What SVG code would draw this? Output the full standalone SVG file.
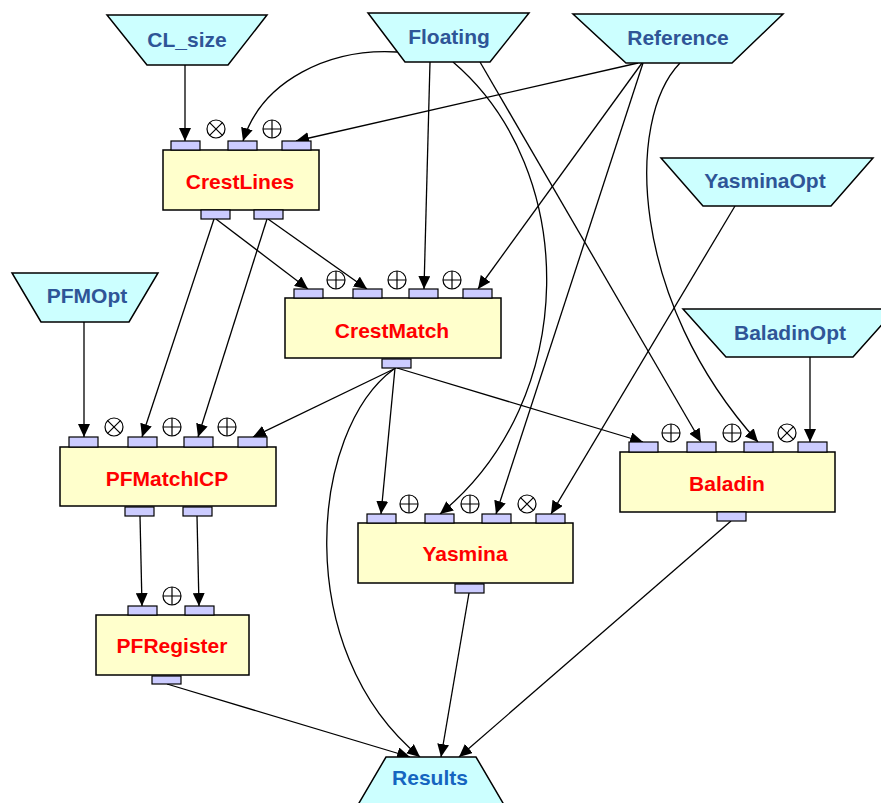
<svg xmlns="http://www.w3.org/2000/svg" width="881" height="803" viewBox="0 0 881 803">
<defs>
<marker id="ah" markerUnits="userSpaceOnUse" markerWidth="13" markerHeight="12" refX="13" refY="6" orient="auto">
<path d="M0,0 L13,6 L0,12 z" fill="#000"/>
</marker>
<g id="oplus"><circle cx="0" cy="0" r="9" fill="#fff" stroke="#000" stroke-width="1.2"/><path d="M-9,0 H9 M0,-9 V9" stroke="#000" stroke-width="1.2"/></g>
<g id="otimes"><circle cx="0" cy="0" r="9" fill="#fff" stroke="#000" stroke-width="1.2"/><path d="M-6.4,-6.4 L6.4,6.4 M6.4,-6.4 L-6.4,6.4" stroke="#000" stroke-width="1.2"/></g>
</defs>
<style>
.io{fill:#CCFFFF;stroke:#000;stroke-width:1.5}
.box{fill:#FFFFCC;stroke:#000;stroke-width:1.5}
.port{fill:#CCCCFF;stroke:#000;stroke-width:1.2}
.it{font-family:"Liberation Sans",Arial,sans-serif;font-weight:bold;font-size:21px;fill:#2F5597;text-anchor:middle}
.res{fill:#1565C0}
.mt{font-family:"Liberation Sans",Arial,sans-serif;font-weight:bold;font-size:21px;fill:#FF0000;text-anchor:middle}
.c{fill:none;stroke:#000;stroke-width:1.3;marker-end:url(#ah)}
</style>
<rect width="881" height="803" fill="#fff"/>

<g id="connectors">
<path class="c" d="M185,65 L185,141"/>
<path class="c" d="M397,52 C330,48 262,80 243,141"/>
<path class="c" d="M638,63 L296,141"/>
<path class="c" d="M216,219 L308,289"/>
<path class="c" d="M268,219 L367,289"/>
<path class="c" d="M214,219 L142,437"/>
<path class="c" d="M267,219 L198,437"/>
<path class="c" d="M430,62 L424,289"/>
<path class="c" d="M642,63 L478,289"/>
<path class="c" d="M84,322 L84,437"/>
<path class="c" d="M396,368 L253,437"/>
<path class="c" d="M395,368 L381,514"/>
<path class="c" d="M397,368 L643,442"/>
<path class="c" d="M394,369 C310,430 290,650 420,757"/>
<path class="c" d="M453,62 C580,170 580,400 440,514"/>
<path class="c" d="M480,62 L701,442"/>
<path class="c" d="M643,63 L496,514"/>
<path class="c" d="M680,63 C625,120 630,300 758,442"/>
<path class="c" d="M735,206 L551,514"/>
<path class="c" d="M810,357 L810,442"/>
<path class="c" d="M140,516 L142,606"/>
<path class="c" d="M197,516 L199,606"/>
<path class="c" d="M167,684 L410,757"/>
<path class="c" d="M469,593 L441,757"/>
<path class="c" d="M731,521 L459,757"/>
</g>

<g id="CL_size"><polygon class="io" points="107,15 267,15 228,65 147,65"/><text class="it" x="187" y="47">CL_size</text></g>
<g id="Floating"><polygon class="io" points="368,13 529,13 490,62 405,62"/><text class="it" x="449" y="44">Floating</text></g>
<g id="Reference"><polygon class="io" points="573,14 783,14 732,63 626,63"/><text class="it" x="678" y="45">Reference</text></g>
<g id="YasminaOpt"><polygon class="io" points="661,158 873,158 831,206 703,206"/><text class="it" x="765" y="188">YasminaOpt</text></g>
<g id="PFMOpt"><polygon class="io" points="12,273 158,273 129,322 41,322"/><text class="it" x="87" y="303">PFMOpt</text></g>
<g id="BaladinOpt"><polygon class="io" points="683,309 896,309 853,357 726,357"/><text class="it" x="790" y="340">BaladinOpt</text></g>
<g id="Results"><polygon class="io" points="386,757 476,757 510,815 352,815"/><text class="it res" x="430" y="785">Results</text></g>

<g id="CrestLines">
<rect class="box" x="163" y="150" width="156" height="60"/>
<rect class="port" x="171" y="141" width="29" height="9"/>
<rect class="port" x="228" y="141" width="29" height="9"/>
<rect class="port" x="282" y="141" width="29" height="9"/>
<rect class="port" x="201" y="210" width="29" height="9"/>
<rect class="port" x="254" y="210" width="29" height="9"/>
<use href="#otimes" x="216" y="129"/>
<use href="#oplus" x="272" y="129"/>
<text class="mt" x="240" y="189">CrestLines</text>
</g>

<g id="CrestMatch">
<rect class="box" x="285" y="298" width="216" height="60"/>
<rect class="port" x="294" y="289" width="29" height="9"/>
<rect class="port" x="353" y="289" width="29" height="9"/>
<rect class="port" x="409" y="289" width="29" height="9"/>
<rect class="port" x="463" y="289" width="29" height="9"/>
<rect class="port" x="382" y="359" width="29" height="9"/>
<use href="#oplus" x="336" y="280"/>
<use href="#oplus" x="397" y="280"/>
<use href="#oplus" x="452" y="280"/>
<text class="mt" x="392" y="338">CrestMatch</text>
</g>

<g id="PFMatchICP">
<rect class="box" x="60" y="447" width="216" height="59"/>
<rect class="port" x="69" y="437" width="29" height="10"/>
<rect class="port" x="128" y="437" width="29" height="10"/>
<rect class="port" x="184" y="437" width="29" height="10"/>
<rect class="port" x="238" y="437" width="29" height="10"/>
<rect class="port" x="125" y="507" width="29" height="9"/>
<rect class="port" x="183" y="507" width="29" height="9"/>
<use href="#otimes" x="114" y="427"/>
<use href="#oplus" x="172" y="427"/>
<use href="#oplus" x="227" y="427"/>
<text class="mt" x="167" y="486">PFMatchICP</text>
</g>

<g id="Yasmina">
<rect class="box" x="358" y="523" width="215" height="60"/>
<rect class="port" x="367" y="514" width="29" height="9"/>
<rect class="port" x="425" y="514" width="29" height="9"/>
<rect class="port" x="482" y="514" width="29" height="9"/>
<rect class="port" x="536" y="514" width="29" height="9"/>
<rect class="port" x="455" y="584" width="29" height="9"/>
<use href="#oplus" x="409" y="504"/>
<use href="#oplus" x="470" y="504"/>
<use href="#otimes" x="527" y="504"/>
<text class="mt" x="465" y="561">Yasmina</text>
</g>

<g id="Baladin">
<rect class="box" x="620" y="452" width="215" height="60"/>
<rect class="port" x="629" y="442" width="29" height="10"/>
<rect class="port" x="687" y="442" width="29" height="10"/>
<rect class="port" x="744" y="442" width="29" height="10"/>
<rect class="port" x="798" y="442" width="29" height="10"/>
<rect class="port" x="717" y="512" width="29" height="9"/>
<use href="#oplus" x="671" y="433"/>
<use href="#oplus" x="732" y="433"/>
<use href="#otimes" x="787" y="433"/>
<text class="mt" x="727" y="491">Baladin</text>
</g>

<g id="PFRegister">
<rect class="box" x="96" y="615" width="153" height="60"/>
<rect class="port" x="128" y="606" width="29" height="9"/>
<rect class="port" x="185" y="606" width="29" height="9"/>
<rect class="port" x="152" y="676" width="29" height="8"/>
<use href="#oplus" x="172" y="596"/>
<text class="mt" x="172" y="653">PFRegister</text>
</g>
</svg>
